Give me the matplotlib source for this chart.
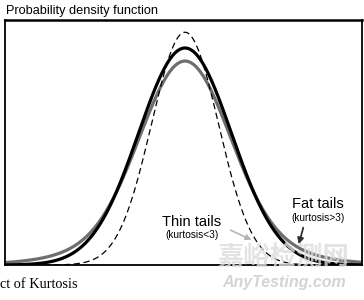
import numpy as np
import matplotlib
matplotlib.use('Agg')
from matplotlib import pyplot as plt

# curve parameters (x in units of the normal sigma)
names  = ['normal', 'thin', 'fat']
peaks  = [0.399, 0.428, 0.320]      # main gaussian height
sigmas = [1.00, 0.72, 0.95]         # main gaussian width
extra_peak  = [0.0, 0.0, 0.055]     # wide component for the fat tails
extra_sigma = [1.0, 1.0, 1.72]
colors = ['black', 'black', '#6e6e6e']
styles = ['-', '--', '-']
widths = [2.3, 0.9, 2.3]

title = 'Probability density function'
caption = 'ct of Kurtosis'
lab_thin = ['Thin tails', '(kurtosis<3)']
lab_fat = ['Fat tails', '(kurtosis>3)']

W, H = 364, 300
fig = plt.figure(figsize=(W/100, H/100), dpi=100)
ax = fig.add_axes([5/W, 1-265/H, 357/W, 245/H])

x = np.linspace(-3.9, 3.9, 800)
order = [2, 0, 1]
for i in order:
    y = peaks[i]*np.exp(-x**2/(2*sigmas[i]**2)) + extra_peak[i]*np.exp(-x**2/(2*extra_sigma[i]**2))
    ax.plot(x, y, color=colors[i], ls=styles[i], lw=widths[i], dashes=(5, 3) if styles[i] == '--' else (None, None),
            solid_capstyle='round')

ax.set_xlim(-180/46.5, 177/46.5)
ax.set_ylim(0, 245*0.399/217)
ax.set_xticks([]), ax.set_yticks([])
for s in ax.spines.values():
    s.set_linewidth(1.3)
ax.spines['top'].set_linewidth(1.8)

def fx(px): return px/W
def fy(py): return 1-py/H

sans = ['Liberation Sans', 'DejaVu Sans']
fig.text(fx(6), fy(11), title, fontsize=9.2, family=sans, va='center', ha='left')
fig.text(fx(0), fy(285), caption, fontsize=10.3, family=['Liberation Serif'], va='center', ha='left')

fig.text(fx(192), fy(222), lab_thin[0], fontsize=10.5, family=sans, ha='center', va='center')
fig.text(fx(192), fy(235), lab_thin[1], fontsize=7.3, family=sans, ha='center', va='center')
fig.text(fx(318), fy(204), lab_fat[0], fontsize=10.5, family=sans, ha='center', va='center')
fig.text(fx(318), fy(218), lab_fat[1], fontsize=7.3, family=sans, ha='center', va='center')

ax.annotate('', xy=(fx(254), fy(241)), xytext=(fx(228), fy(229)), xycoords='figure fraction',
            textcoords='figure fraction',
            arrowprops=dict(arrowstyle='-|>', color='#b4b4b4', lw=1.2, mutation_scale=8))
ax.annotate('', xy=(fx(298), fy(247)), xytext=(fx(304), fy(225)), xycoords='figure fraction',
            textcoords='figure fraction',
            arrowprops=dict(arrowstyle='-|>', color='#303030', lw=1.3, mutation_scale=9))

# site watermark
fig.text(fx(283), fy(257), '嘉峪检测网', fontsize=19, family=['Noto Sans CJK SC'], color='#dcdcdc',
         ha='center', va='center', weight='bold', alpha=0.8)
fig.text(fx(284), fy(283), 'AnyTesting.com', fontsize=11.5, family=sans, color='#d4d4d4',
         ha='center', va='center', style='italic', weight='bold')

plt.savefig('out.png', dpi=100)
